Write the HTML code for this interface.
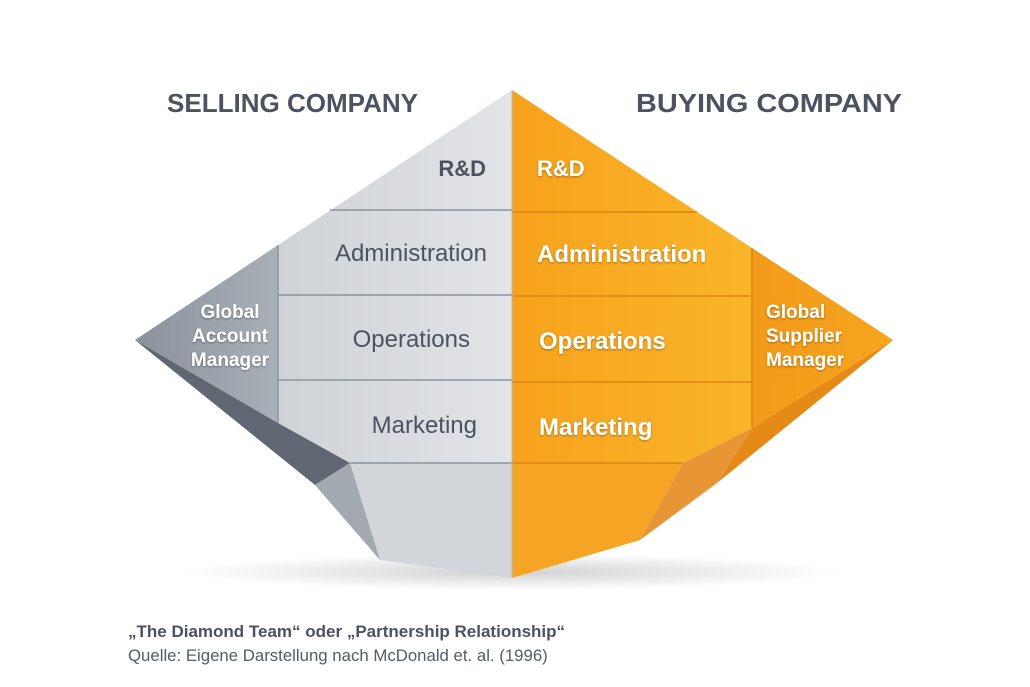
<!DOCTYPE html>
<html><head><meta charset="utf-8"><style>
html,body{margin:0;padding:0;background:#fff;}
svg{display:block;font-family:"Liberation Sans","DejaVu Sans",sans-serif;}
</style></head><body>
<svg width="1030" height="687" viewBox="0 0 1030 687" xmlns="http://www.w3.org/2000/svg">
<defs>
<linearGradient id="gl" x1="0" y1="0" x2="1" y2="0"><stop offset="0" stop-color="#cfd2d7"/><stop offset="1" stop-color="#e2e4e7"/></linearGradient>
<linearGradient id="gs" x1="0" y1="0" x2="1" y2="0"><stop offset="0" stop-color="#8a929b"/><stop offset="1" stop-color="#a9b0b8"/></linearGradient>
<linearGradient id="og" x1="0" y1="0" x2="1" y2="0"><stop offset="0" stop-color="#f7a21c"/><stop offset="1" stop-color="#fab52a"/></linearGradient>
<linearGradient id="os" x1="0" y1="0" x2="1" y2="0"><stop offset="0" stop-color="#f39a1a"/><stop offset="1" stop-color="#f6a51e"/></linearGradient>
<radialGradient id="sh" cx="0.5" cy="0.5" r="0.5"><stop offset="0" stop-color="#000" stop-opacity="0.18"/><stop offset="1" stop-color="#000" stop-opacity="0"/></radialGradient>
<filter id="ts"><feDropShadow dx="0" dy="1" stdDeviation="1" flood-color="#000" flood-opacity="0.35"/></filter>
</defs>
<ellipse cx="512" cy="572" rx="330" ry="18" fill="url(#sh)"/>
<!-- LEFT -->
<polygon points="512,90 278,245 278,423 350,463 512,463" fill="url(#gl)"/>
<polygon points="278,245 135,340 278,423" fill="url(#gs)"/>
<polygon points="135,340 278,423 350,463 315,485" fill="#5f6872"/>
<polygon points="350,463 512,463 512,578 380,560" fill="#d2d5d9"/>
<polygon points="315,485 350,463 380,560" fill="#a3a9b0"/>
<g stroke="#8c939b" stroke-width="1.5">
<line x1="330" y1="210" x2="512" y2="210"/>
<line x1="278" y1="295" x2="512" y2="295"/>
<line x1="278" y1="380" x2="512" y2="380"/>
<line x1="350" y1="463" x2="512" y2="463"/>
<line x1="278" y1="245" x2="278" y2="423"/>
</g>
<!-- RIGHT -->
<polygon points="512,90 752,248 752,428 683,463 512,463" fill="url(#og)"/>
<polygon points="752,248 893,340 752,428" fill="url(#os)"/>
<polygon points="893,340 752,428 717,483" fill="#e58a16"/>
<polygon points="512,463 683,463 640,540 512,578" fill="#f5a423"/>
<polygon points="683,463 752,428 717,483 640,540" fill="#e89536"/>
<g stroke="#d9860f" stroke-width="1.5">
<line x1="512" y1="212" x2="697" y2="212"/>
<line x1="512" y1="296" x2="752" y2="296"/>
<line x1="512" y1="382" x2="752" y2="382"/>
<line x1="512" y1="463" x2="683" y2="463"/>
<line x1="752" y1="248" x2="752" y2="428"/>
</g>
<line x1="512" y1="90" x2="512" y2="578" stroke="#b8bcc2" stroke-width="1"/>
<!-- headings -->
<g fill="#4b5260" font-weight="bold" font-size="26">
<text x="167" y="112" textLength="251" lengthAdjust="spacingAndGlyphs">SELLING COMPANY</text>
<text x="636" y="112" textLength="266" lengthAdjust="spacingAndGlyphs">BUYING COMPANY</text>
</g>
<g fill="#4b5260" font-size="24" text-anchor="end">
<text x="486" y="176" font-weight="bold" font-size="22">R&amp;D</text>
<text x="487" y="261">Administration</text>
<text x="470" y="347">Operations</text>
<text x="477" y="433">Marketing</text>
</g>
<g fill="#fff" font-size="19" font-weight="bold" text-anchor="middle" filter="url(#ts)">
<text x="230" y="318">Global</text>
<text x="230" y="342">Account</text>
<text x="230" y="366">Manager</text>
</g>
<g fill="#fff" font-size="24" font-weight="bold" filter="url(#ts)">
<text x="537" y="176" font-size="22">R&amp;D</text>
<text x="537" y="262">Administration</text>
<text x="539" y="349">Operations</text>
<text x="539" y="435">Marketing</text>
</g>
<g fill="#fff" font-size="19" font-weight="bold" filter="url(#ts)">
<text x="766" y="318">Global</text>
<text x="766" y="342">Supplier</text>
<text x="766" y="366">Manager</text>
</g>
<text x="128" y="637" fill="#4b5260" font-size="17" font-weight="bold">„The Diamond Team“ oder „Partnership Relationship“</text>
<text x="128" y="661" fill="#555c66" font-size="16.8">Quelle: Eigene Darstellung nach McDonald et. al. (1996)</text>
</svg>
</body></html>
